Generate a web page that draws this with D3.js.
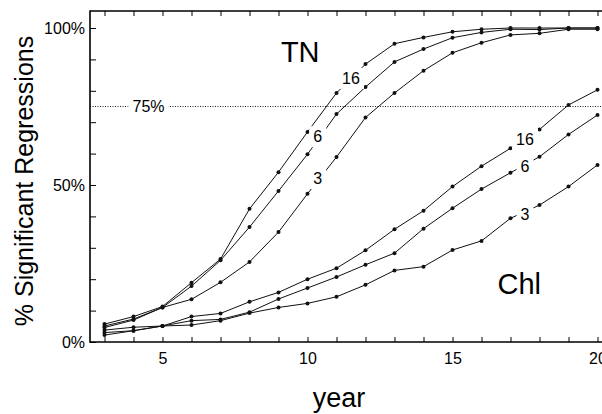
<!DOCTYPE html>
<html>
<head>
<meta charset="utf-8">
<script src="https://cdn.jsdelivr.net/npm/d3@7"></script>
<style>
  body { margin: 0; background: #fff; }
  svg { display: block; font-family: 'Liberation Sans', Arial, sans-serif; }
</style>
</head>
<body>
<div id="chart"></div>
<script>
'use strict'

// years on the x axis
const YEARS = [3, 4, 5, 6, 7, 8, 9, 10, 11, 12, 13, 14, 15, 16, 17, 18, 19, 20]

// % significant regressions, total nitrogen
const TN_16 = [5.7, 8.1, 11.3, 18.9, 26.4, 42.4, 54.1, 66.9, 79.3, 88.5, 95, 97, 98.8, 99.6, 100, 100, 100, 100]
const TN_6 = [5.1, 7.3, 11, 17.8, 26, 36.6, 48.1, 59.8, 72.6, 81.2, 89.2, 93.3, 96.9, 98.6, 99.6, 99.5, 100, 100]
const TN_3 = [4.6, 7, 11, 13.6, 19, 25.5, 35, 47.2, 58.9, 71.5, 79.3, 86.4, 92.1, 95.3, 97.8, 98.3, 99.6, 99.6]

// % significant regressions, chlorophyll
const CHL_16 = [3.8, 4.7, 5.1, 8.1, 9.1, 12.8, 15.8, 20, 23.5, 29.2, 35.9, 41.8, 49.5, 56, 61.7, 67.7, 75.5, 80.3]
const CHL_6 = [3, 3.6, 5.1, 6.8, 7.2, 9.5, 13.7, 17.2, 20.7, 24.6, 28.3, 36.1, 42.6, 48.7, 53.9, 59, 66.1, 72.3]
const CHL_3 = [2.2, 3.6, 5.1, 5.4, 6.8, 9.2, 11, 12.3, 14.4, 18.2, 22.8, 24, 29.3, 32.2, 39.4, 43.6, 49.5, 56.4]

// in-line curve labels: [text, year, value]
const CURVE_LABELS = [
  ['16', 11.5, 84], ['6', 10.35, 65.4], ['3', 10.35, 52.1],
  ['16', 17.5, 64.6], ['6', 17.5, 56], ['3', 17.5, 40.7]
]
const Y_TICKS = [0, 10, 20, 30, 40, 50, 60, 70, 80, 90, 100]
const Y_LABELS = [0, 50, 100]
const X_LABELS = [5, 10, 15, 20]
const THRESHOLD = 75

const WIDTH = 602
const HEIGHT = 414
const FRAME = { left: 90, right: 602, top: 11, bottom: 342 }

const series = [TN_16, TN_6, TN_3, CHL_16, CHL_6, CHL_3]

const svg = d3.select('#chart').append('svg')
  .attr('width', WIDTH)
  .attr('height', HEIGHT)

const x = d3.scaleLinear().domain([2.5, 20]).range([FRAME.left, 597.5])
const y = d3.scaleLinear().domain([0, 100]).range([FRAME.bottom, 28])

// 75% threshold line
svg.append('line')
  .attr('x1', FRAME.left).attr('x2', FRAME.right)
  .attr('y1', y(THRESHOLD)).attr('y2', y(THRESHOLD))
  .attr('stroke', '#222')
  .attr('stroke-width', 1)
  .attr('stroke-dasharray', '1,1.5')

const thrLabel = svg.append('text')
  .attr('x', 148.5)
  .attr('y', y(THRESHOLD))
  .attr('dy', '0.35em')
  .attr('text-anchor', 'middle')
  .style('font-size', '16px')
  .text(THRESHOLD + '%')
const tb = thrLabel.node().getBBox()
svg.insert('rect', 'text')
  .attr('x', tb.x - 4).attr('y', tb.y)
  .attr('width', tb.width + 8).attr('height', tb.height)
  .attr('fill', '#fff')

const line = d3.line()
  .x((d, i) => x(YEARS[i]))
  .y(d => y(d))

series.forEach(values => {
  svg.append('path')
    .datum(values)
    .attr('fill', 'none')
    .attr('stroke', '#111')
    .attr('stroke-width', 1)
    .attr('d', line)

  svg.append('g')
    .selectAll('circle')
    .data(values)
    .join('circle')
    .attr('cx', (d, i) => x(YEARS[i]))
    .attr('cy', d => y(d))
    .attr('r', 2)
    .attr('fill', '#111')
})

// curve labels sit on the lines with a white gap behind them
CURVE_LABELS.forEach(([txt, yr, val]) => {
  const g = svg.append('g')
  const t = g.append('text')
    .attr('x', x(yr))
    .attr('y', y(val))
    .attr('dy', '0.35em')
    .attr('text-anchor', 'middle')
    .style('font-size', '16px')
    .text(txt)
  const b = t.node().getBBox()
  g.insert('rect', 'text')
    .attr('x', b.x - 4).attr('y', b.y - 2)
    .attr('width', b.width + 8).attr('height', b.height + 4)
    .attr('fill', '#fff')
})

// axes, ticks pointing inward
svg.append('g')
  .attr('transform', 'translate(' + FRAME.left + ',0)')
  .call(d3.axisLeft(y).tickValues(Y_TICKS).tickSizeInner(-6).tickSizeOuter(0).tickPadding(5)
    .tickFormat(d => Y_LABELS.includes(d) ? d + '%' : ''))
  .call(g => g.select('.domain').remove())
  .call(g => g.selectAll('text').style('font-size', '16px').attr('fill', '#000'))

svg.append('g')
  .attr('transform', 'translate(0,' + FRAME.bottom + ')')
  .call(d3.axisBottom(x).tickValues(YEARS).tickSizeInner(-5).tickSizeOuter(0).tickPadding(11)
    .tickFormat(d => X_LABELS.includes(d) ? d : ''))
  .call(g => g.select('.domain').remove())
  .call(g => g.selectAll('text').style('font-size', '16px').attr('fill', '#000'))

svg.append('g')
  .attr('transform', 'translate(0,' + FRAME.top + ')')
  .call(d3.axisTop(x).tickValues(YEARS).tickSizeInner(-5).tickSizeOuter(0).tickFormat(''))
  .call(g => g.select('.domain').remove())

// frame
svg.append('path')
  .attr('d', 'M' + FRAME.right + ',' + FRAME.top + 'H' + FRAME.left + 'V' + FRAME.bottom + 'H' + FRAME.right)
  .attr('fill', 'none')
  .attr('stroke', '#000')
  .attr('stroke-width', 1.6)

// titles
svg.append('text')
  .attr('transform', 'translate(33,181) rotate(-90)')
  .attr('text-anchor', 'middle')
  .style('font-size', '25px')
  .text('% Significant Regressions')

svg.append('text')
  .attr('x', 339).attr('y', 407)
  .attr('text-anchor', 'middle')
  .style('font-size', '27px')
  .text('year')

svg.append('text')
  .attr('x', x(9.75)).attr('y', 62)
  .attr('text-anchor', 'middle')
  .style('font-size', '29px')
  .text('TN')

svg.append('text')
  .attr('x', x(17.3)).attr('y', 294)
  .attr('text-anchor', 'middle')
  .style('font-size', '29px')
  .text('Chl')
</script>
</body>
</html>
